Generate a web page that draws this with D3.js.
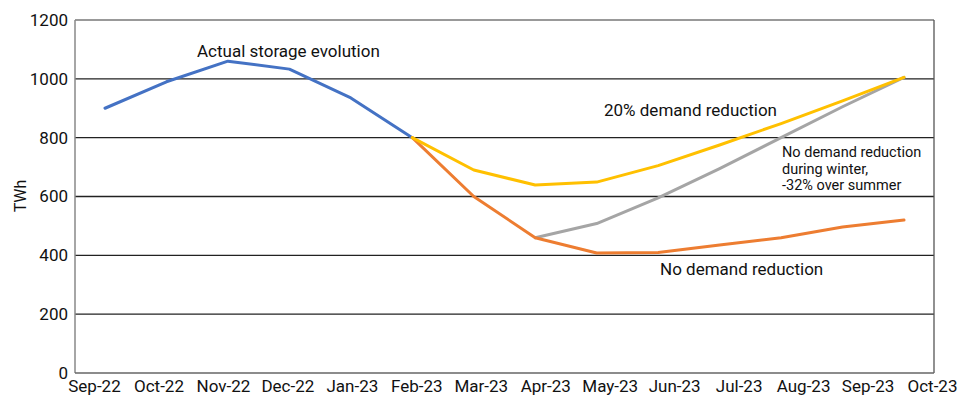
<!DOCTYPE html>
<html>
<head>
<meta charset="utf-8">
<script src="https://cdn.jsdelivr.net/npm/d3@7"></script>
<style>
  body { margin: 0; background: #fff; }
  text { font-family: Roboto, Lato, "DejaVu Sans", sans-serif; fill: #111; }
</style>
</head>
<body>
<svg id="chart"></svg>
<script>
const months = ["Sep-22", "Oct-22", "Nov-22", "Dec-22", "Jan-23", "Feb-23", "Mar-23",
    "Apr-23", "May-23", "Jun-23", "Jul-23", "Aug-23", "Sep-23", "Oct-23"];
const yTicks = [0, 200, 400, 600, 800, 1000, 1200];

// null = no value for that month
const actual = [900, 990, 1060, 1033, 935, 800, null, null, null, null, null, null, null, null];
const noReduction = [null, null, null, null, null, 800, 600, 460, 408, 410, 435, 460, 496, 520];
const reduction20 = [null, null, null, null, null, 800, 690, 639, 649, 705, 775, 848, 925, 1005];
const summerOnly = [null, null, null, null, null, null, null, 460, 508, 595, 695, 800, 905, 1005];

const series = [
    { name: "actual", values: actual, color: "#4472C4" },
    { name: "summer", values: summerOnly, color: "#A5A5A5" },
    { name: "noReduction", values: noReduction, color: "#ED7D31" },
    { name: "reduction20", values: reduction20, color: "#FFC000" }
];

const width = 972;
const height = 400;
const plot = { left: 75, right: 934, top: 20, bottom: 373 };

const svg = d3.select("#chart")
    .attr("width", width)
    .attr("height", height);

const y = d3.scaleLinear()
    .domain([0, 1200])
    .range([plot.bottom, plot.top]);

// data points and month labels do not share the same spacing in the original
const xData = d3.scalePoint()
    .domain(months)
    .range([105, 904]);

const xLabel = d3.scalePoint()
    .domain(months)
    .range([94, 932]);

// gridlines
svg.append("g")
    .selectAll("line")
    .data(yTicks.filter(d => d > 0))
    .join("line")
    .attr("x1", plot.left)
    .attr("x2", plot.right)
    .attr("y1", d => y(d))
    .attr("y2", d => y(d))
    .attr("stroke", d => d === 1200 ? "#777" : "#222")
    .attr("stroke-width", 1.3);

// frame
svg.append("line")
    .attr("x1", plot.right).attr("x2", plot.right)
    .attr("y1", plot.top).attr("y2", plot.bottom)
    .attr("stroke", "#555").attr("stroke-width", 1.3);
svg.append("line")
    .attr("x1", plot.left).attr("x2", plot.left)
    .attr("y1", plot.top).attr("y2", plot.bottom)
    .attr("stroke", "#888").attr("stroke-width", 1.5);
svg.append("line")
    .attr("x1", plot.left).attr("x2", plot.right)
    .attr("y1", plot.bottom).attr("y2", plot.bottom)
    .attr("stroke", "#666").attr("stroke-width", 1.5);

// y axis
const yAxis = svg.append("g")
    .attr("transform", `translate(${plot.left},0)`)
    .call(d3.axisLeft(y).tickValues(yTicks).tickFormat(d3.format("d")).tickSize(0).tickPadding(7));
yAxis.select(".domain").remove();
yAxis.selectAll("text")
    .attr("font-size", 17)
    .attr("font-family", null);

// x axis
const xAxis = svg.append("g")
    .attr("transform", `translate(0,${plot.bottom})`)
    .call(d3.axisBottom(xLabel).tickSize(0).tickPadding(7));
xAxis.select(".domain").remove();
xAxis.selectAll("text")
    .attr("font-size", 17)
    .attr("font-family", null);

svg.append("text")
    .attr("transform", "translate(26,196) rotate(-90)")
    .attr("text-anchor", "middle")
    .attr("font-size", 16)
    .text("TWh");

// lines
const line = d3.line()
    .defined(d => d[1] !== null)
    .x(d => xData(d[0]))
    .y(d => y(d[1]));

svg.append("g")
    .selectAll("path")
    .data(series)
    .join("path")
    .attr("d", s => line(months.map((m, i) => [m, s.values[i]])))
    .attr("fill", "none")
    .attr("stroke", s => s.color)
    .attr("stroke-width", 3)
    .attr("stroke-linejoin", "round")
    .attr("stroke-linecap", "round");

// annotations
const notes = [
    { lines: ["Actual storage evolution"], x: 197, y: 57, size: 17 },
    { lines: ["20% demand reduction"], x: 604, y: 116, size: 17 },
    { lines: ["No demand reduction", "during winter,", "-32% over summer"], x: 782, y: 157, size: 14.5, step: 16.5 },
    { lines: ["No demand reduction"], x: 660, y: 275, size: 17 }
];

notes.forEach(n => {
    const t = svg.append("text")
        .attr("x", n.x)
        .attr("y", n.y)
        .attr("font-size", n.size);
    n.lines.forEach((l, i) => {
        t.append("tspan")
            .attr("x", n.x)
            .attr("dy", i === 0 ? 0 : n.step)
            .text(l);
    });
});
</script>
</body>
</html>
